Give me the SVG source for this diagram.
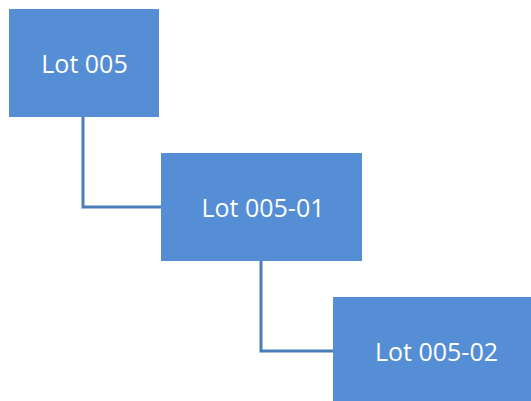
<svg xmlns="http://www.w3.org/2000/svg" width="531" height="401" viewBox="0 0 531 401">
<style>
.box{fill:#558ED5;}
.lbl{font-family:"Open Sans","Liberation Sans",sans-serif;font-size:25px;fill:#ffffff;text-anchor:middle;}
.conn{fill:none;stroke:#4A7EBB;stroke-width:3;}
</style>
<rect width="531" height="401" fill="#ffffff"/>
<g id="connectors">
<polyline class="conn" points="83,117 83,207 161,207"/>
<polyline class="conn" points="261,261 261,351 333,351"/>
</g>
<g id="lot005">
<rect class="box" x="9" y="9" width="150" height="108"/>
<text class="lbl" x="84.5" y="73">Lot 005</text>
</g>
<g id="lot005-01">
<rect class="box" x="161" y="153" width="201" height="108"/>
<text class="lbl" x="263" y="217">Lot 005-01</text>
</g>
<g id="lot005-02">
<rect class="box" x="333" y="297" width="200" height="108"/>
<text class="lbl" x="436.5" y="361">Lot 005-02</text>
</g>
</svg>
